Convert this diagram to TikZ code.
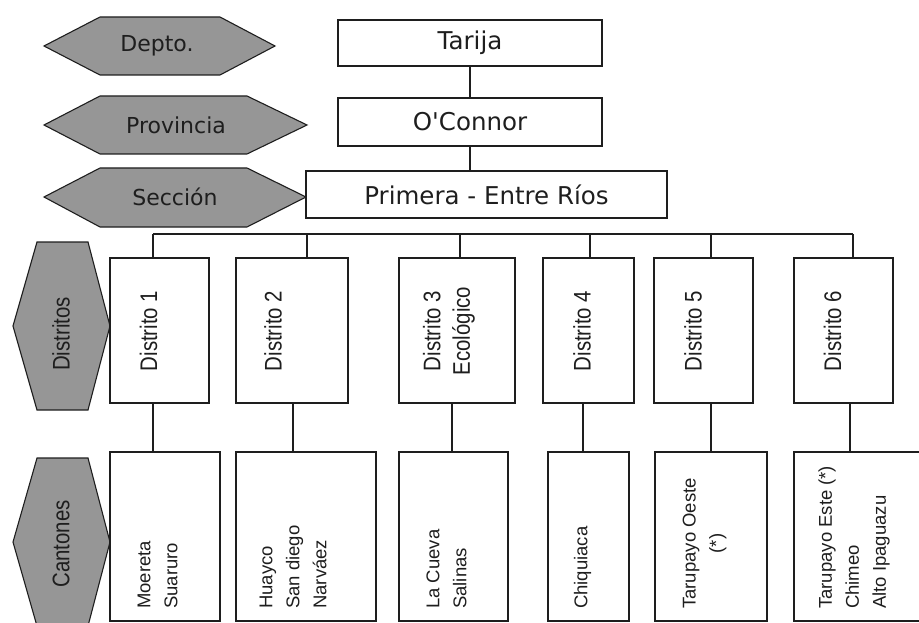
\documentclass[tikz,border=0pt]{standalone}
\usepackage{fontspec}
\newfontfamily\boxfont{DejaVu Sans}
\newfontfamily\narrowfont{Liberation Sans}
\newfontfamily\condfont[FakeStretch=0.85]{Liberation Sans}
\definecolor{hexgray}{RGB}{150,150,150}
\definecolor{ink}{RGB}{30,30,30}

\begin{document}
\begin{tikzpicture}[
    x=1pt, y=-1pt,
    level/.style={draw=ink, line width=1.1pt, fill=hexgray},
    unit/.style={draw=ink, line width=1.3pt, fill=white, inner sep=0pt,
        font=\boxfont\fontsize{24.5}{28}\selectfont, text=ink},
    link/.style={draw=ink, line width=1.3pt},
    tag/.style={font=\boxfont\fontsize{22}{26}\selectfont, text=ink},
    vtag/.style={font=\condfont\fontsize{24}{28}\selectfont, text=ink, rotate=90},
    dname/.style={font=\condfont\fontsize{24}{29.5}\selectfont, text=ink,
        rotate=90, align=center, inner sep=0pt},
    cname/.style={font=\narrowfont\fontsize{18.5}{27}\selectfont, text=ink,
        rotate=90, align=left, anchor=west, inner sep=0pt}
]
    \useasboundingbox (0,0) rectangle (919,623);
    \clip (0,0) rectangle (919,623);

    % levels on the left
    \draw[level] (44,46) -- (100,17) -- (220,17) -- (275,46) -- (220,75) -- (100,75) -- cycle;
    \draw[level] (44,125) -- (100,96) -- (247,96) -- (307,125) -- (247,154) -- (100,154) -- cycle;
    \draw[level] (44,197) -- (100,168) -- (247,168) -- (306,197) -- (247,227) -- (100,227) -- cycle;
    \draw[level] (13,326) -- (37,242) -- (88,242) -- (110,326) -- (88,410) -- (37,410) -- cycle;
    \draw[level] (13,542) -- (37,458) -- (88,458) -- (110,542) -- (88,626) -- (37,626) -- cycle;
    \node[tag] (depto) at (157,46) {Depto.};
    \node[tag] (provincia) at (176,125) {Provincia};
    \node[tag] (seccion) at (175,197) {Sección};
    \node[vtag] (distritos) at (61,334) {Distritos};
    \node[vtag] (cantones) at (61,544) {Cantones};

    % upper boxes
    \node[unit, minimum width=264pt, minimum height=46pt] (tarija) at (470,43) {Tarija};
    \node[unit, minimum width=264pt, minimum height=48pt] (oconnor) at (470,122) {O'Connor};
    \node[unit, minimum width=361pt, minimum height=47pt] (primera) at (486.5,194.5) {Primera - Entre Ríos};
    \draw[link] (tarija) -- (oconnor);
    \draw[link] (oconnor.south) -- (oconnor.south |- primera.north);

    % distritos
    \node[unit, minimum width=99pt, minimum height=145pt] (d1) at (159.5,330.5) {};
    \node[unit, minimum width=112pt, minimum height=145pt] (d2) at (292,330.5) {};
    \node[unit, minimum width=116pt, minimum height=145pt] (d3) at (457,330.5) {};
    \node[unit, minimum width=91pt, minimum height=145pt] (d4) at (588.5,330.5) {};
    \node[unit, minimum width=99pt, minimum height=145pt] (d5) at (703.5,330.5) {};
    \node[unit, minimum width=99pt, minimum height=145pt] (d6) at (843.5,330.5) {};
    \node[dname] (d1t) at (148.5,331) {Distrito 1};
    \node[dname] (d2t) at (273,331) {Distrito 2};
    \node[dname] (d3t) at (449,331) {Distrito 3\\Ecológico};
    \node[dname] (d4t) at (582,331) {Distrito 4};
    \node[dname] (d5t) at (693,331) {Distrito 5};
    \node[dname] (d6t) at (832.5,331) {Distrito 6};

    % cantones
    \node[unit, minimum width=110pt, minimum height=169pt] (c1) at (165,536.5) {};
    \node[unit, minimum width=140pt, minimum height=169pt] (c2) at (306,536.5) {};
    \node[unit, minimum width=109pt, minimum height=169pt] (c3) at (453.5,536.5) {};
    \node[unit, minimum width=81pt, minimum height=169pt] (c4) at (588.5,536.5) {};
    \node[unit, minimum width=112pt, minimum height=169pt] (c5) at (711,536.5) {};
    \node[unit, minimum width=136pt, minimum height=169pt] (c6) at (862,536.5) {};
    \node[cname] (c1t) at (157.5,609) {Moereta\\Suaruro};
    \node[cname] (c2t) at (293,609) {Huayco\\San diego\\Narváez};
    \node[cname] (c3t) at (446.5,609) {La Cueva\\Salinas};
    \node[cname] (c4t) at (582.5,609) {Chiquiaca};
    \node[cname, align=center] (c5t) at (704.5,609) {Tarupayo Oeste\\(*)};
    \node[cname] (c6t) at (854,609) {Tarupayo Este (*)\\Chimeo\\Alto Ipaguazu};

    % bus from the section down to the distritos
    \foreach \i/\x in {1/153,2/307,3/460,4/590,5/711,6/853}
        \coordinate (b\i) at (\x,234);
    \draw[link] (b1) -- (b6);
    \foreach \i in {1,...,6}
        \draw[link] (b\i) -- (b\i |- d\i.north);

    % distrito to canton
    \foreach \i/\x in {1/153,2/293,3/452,4/583,5/711,6/850} {
        \coordinate (k\i) at (\x,428);
        \draw[link] (k\i |- d\i.south) -- (k\i |- c\i.north);
    }
\end{tikzpicture}
\end{document}
